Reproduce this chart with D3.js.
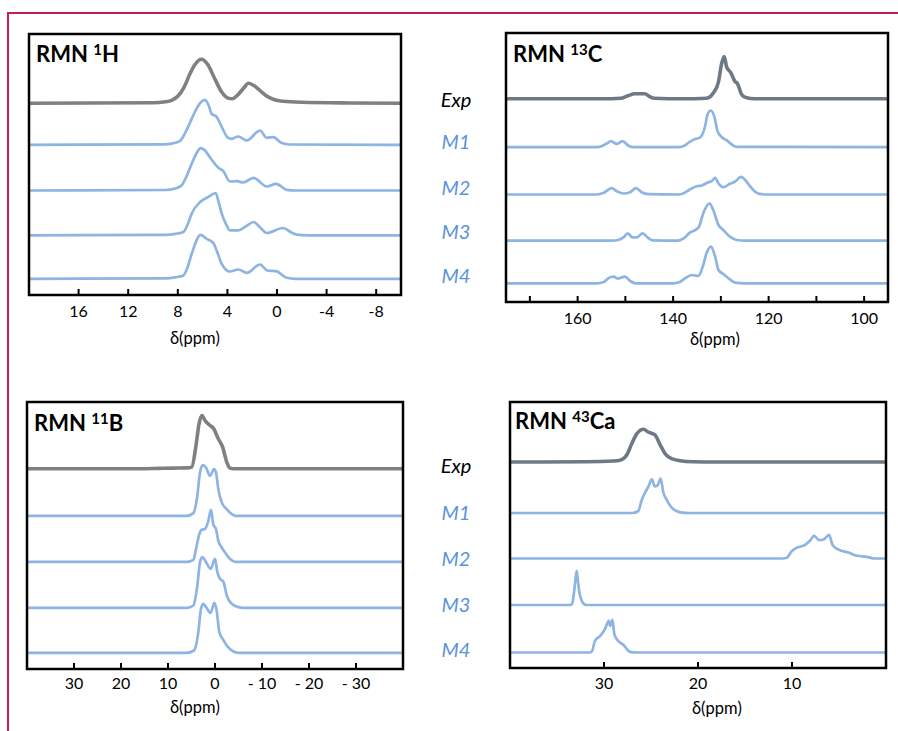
<!DOCTYPE html>
<html lang="en">
<head>
<meta charset="utf-8"/>
<title>RMN spectra</title>
<style>
  body { margin: 0; background: #fff; }
  svg text { font-family: Lato, "Open Sans", sans-serif; }
</style>
</head>
<body>
<svg id="chart" width="898" height="731"></svg>

<script src="https://cdn.jsdelivr.net/npm/d3@7/dist/d3.min.js"></script>
<script>

  // series names shown in the middle column
  const seriesNames = ['Exp', 'M1', 'M2', 'M3', 'M4'];

  // ---- RMN 1H : [ppm, intensity] ----
  const h1Exp = [[20, 0], [10, 0.5], [9, 1.5], [8.5, 3], [8, 7], [7.5, 16], [7, 30], [6.6, 39], [6.1, 44], [5.6, 39],
    [5.0, 24], [4.5, 12], [4.0, 5.5], [3.6, 4.5], [3.2, 8], [2.7, 15], [2.3, 20], [1.9, 18], [1.3, 12], [0.8, 7],
    [0.2, 3.5], [-0.5, 2], [-2, 1], [-6, 0.3], [-10, 0]];
  const h1M1 = [[20, 0], [9, 0.5], [8.2, 2], [7.8, 4], [7.4, 12], [7.0, 22.6], [6.5, 36], [6.1, 43], [5.8, 45], [5.5, 39],
    [5.27, 31], [4.87, 28], [4.46, 18], [3.93, 6.7], [3.66, 6], [3.12, 8.3], [2.44, 4.3], [1.37, 14.3], [0.83, 7],
    [0.3, 7.7], [-0.38, 1.7], [-1, 0.3], [-10, 0]];
  const h1M2 = [[20, 0], [9, 0.5], [8.2, 2], [7.7, 5], [7.3, 14], [6.88, 26.7], [6.5, 37], [6.15, 42.3], [5.8, 40],
    [5.4, 33], [4.73, 22.7], [4.33, 19.3], [3.8, 9], [3.25, 9.3], [2.72, 8], [1.9, 12.7], [0.83, 4], [0.08, 6.7],
    [-0.78, 0.7], [-1.5, 0], [-10, 0]];
  const h1M3 = [[20, 0], [9, 0.5], [8.2, 1.5], [7.55, 3.3], [7.2, 11], [6.88, 21.7], [6.2, 33.3], [5.54, 38.3],
    [4.95, 42.3], [4.7, 33], [4.46, 21.7], [4.1, 11], [3.8, 5], [3.12, 5], [2.5, 9], [1.9, 13.3], [1.3, 7], [0.83, 2.3],
    [-0.5, 7.3], [-1.2, 2.5], [-1.6, 0.7], [-2.5, 0], [-10, 0]];
  const h1M4 = [[20, 0], [9, 0.5], [8.2, 1.5], [7.55, 3.3], [7.2, 12], [6.88, 25], [6.15, 44], [5.67, 40], [5.13, 35.7],
    [4.8, 26], [4.46, 15], [3.8, 7.3], [3.12, 9.3], [2.44, 6], [1.37, 14.3], [0.78, 8.3], [0.08, 7.7], [-0.78, 1],
    [-1.5, 0], [-10, 0]];
  const h1Offsets = [175.5, 134, 88.3, 43.5, 0];
  const h1Ticks = [16, 12, 8, 4, 0, -4, -8];

  // ---- RMN 13C ----
  const c13Exp = [[175, 0], [155, 0], [151, 0.5], [149.5, 3], [148, 5], [146, 5], [144.8, 2], [144, 0.5], [138, 0],
    [133, 0.5], [131.6, 5.7], [130.5, 17], [129.8, 36], [129.3, 42.3], [128.8, 32], [127.9, 26], [127.0, 17],
    [126.6, 15.7], [125.6, 4], [124.6, 1], [123, 0], [95, 0]];
  const c13M1 = [[175, 0], [156, 0], [155, 1], [153.9, 3.7], [153, 6], [151.8, 3.3], [150.6, 6], [149.4, 1.7],
    [148.3, 0], [139, 0], [137.9, 1], [136.6, 5], [135.4, 8.3], [134.5, 9.3], [133.3, 21], [132.8, 32.7],
    [132.1, 36.7], [131.4, 31], [130.7, 16], [129.8, 10], [128.8, 7], [127.7, 2.7], [126.7, 0.3], [95, 0]];
  const c13M2 = [[175, 0], [156, 0], [154.5, 1.7], [152.9, 6.3], [151.8, 3.3], [150.4, 1], [149, 2.3], [147.8, 6.3],
    [146.6, 2.3], [145.2, 0.3], [139, 0], [137.9, 1], [136.5, 5], [135.1, 8.3], [134, 9], [132.6, 12.3],
    [131.9, 13.3], [131.2, 16.7], [130.5, 11], [129.5, 7.3], [128.1, 10.7], [127, 13], [125.8, 17.7], [125, 15],
    [123.9, 8.3], [122.9, 3], [121.5, 0.3], [120, 0], [95, 0]];
  const c13M3 = [[175, 0], [153, 0], [151.5, 0.7], [150.4, 3.3], [149.5, 7.3], [148.5, 3.3], [147.6, 3.3],
    [146.4, 7.3], [145.2, 2.7], [144.2, 0.3], [139, 0], [137.9, 2], [136.5, 8], [134.7, 13], [133.7, 27.3],
    [132.4, 37.3], [131.6, 30.7], [130.5, 15.7], [129.5, 10.7], [128.1, 4], [126.7, 0.7], [125, 0], [95, 0]];
  const c13M4 = [[175, 0], [156, 0], [154.5, 1.3], [153.6, 5], [152.5, 6.7], [151.5, 4.7], [150.1, 6.7], [149, 2.3],
    [147.8, 0], [140, 0], [138.6, 1.3], [137.5, 5], [136.1, 8.3], [134.7, 7.3], [133.8, 16.7], [133, 30],
    [132.1, 36.7], [131.2, 26.7], [130.5, 13.3], [129.5, 9.3], [128.4, 5], [127, 0.7], [125, 0], [95, 0]];
  const c13Offsets = [184.5, 136.1, 88.8, 42.6, 0];
  const c13Ticks = [170, 160, 150, 140, 130, 120, 110, 100];
  const c13TickLabels = [160, 140, 120, 100];

  // ---- RMN 11B ----
  const b11Exp = [[40, 0], [16, 0], [12, 0.4], [9, 0.7], [6, 0.9], [4.96, 1.7], [4.04, 23.3], [3.4, 45], [2.77, 53.3],
    [2.13, 48.3], [1.06, 43.3], [0.36, 40.7], [-0.7, 30], [-1.63, 21.7], [-2.5, 6.7], [-3.2, 0.7], [-4, 0], [-40, 0]];
  const b11M1 = [[40, 0], [6, 0], [4.6, 2.7], [3.76, 20], [3.19, 43.3], [2.62, 50.7], [1.91, 48.3], [1.06, 40],
    [0.21, 46.7], [-0.21, 43.3], [-0.7, 26.7], [-1.43, 13.3], [-2.5, 6.7], [-3.55, 1.7], [-4.3, 0], [-40, 0]];
  const b11M2 = [[40, 0], [6, 0], [4.6, 2], [4.04, 12.7], [3.33, 27.7], [2.84, 32], [2.13, 32.7], [1.42, 41],
    [0.85, 52], [0.36, 37.3], [-0.21, 32.7], [-0.7, 21], [-1.43, 14.3], [-2.13, 9.3], [-3.2, 2.7], [-4.3, 0], [-40, 0]];
  const b11M3 = [[40, 0], [6, 0], [4.6, 2.3], [3.76, 22.3], [3.19, 45.7], [2.7, 50.7], [1.91, 45.7], [0.92, 39],
    [0, 49], [-0.5, 35.7], [-1.06, 29], [-1.77, 26.3], [-2.5, 12.3], [-3.55, 4], [-4.96, 0.7], [-6, 0], [-40, 0]];
  const b11M4 = [[40, 0], [6, 0], [4.46, 2.3], [3.55, 20.7], [2.98, 44], [2.49, 49], [1.91, 45.7], [0.92, 40],
    [0.14, 50], [-0.35, 42.3], [-0.92, 20.7], [-1.63, 14], [-2.5, 7.3], [-3.9, 1.3], [-4.96, 0], [-40, 0]];
  const b11Offsets = [184, 137, 91, 45, 0];
  const b11Ticks = [30, 20, 10, 0, -10, -20, -30];

  // ---- RMN 43Ca ----
  const ca43Exp = [[40, 0], [32, 0.3], [29, 1], [28.3, 1.7], [27.6, 6.7], [27.05, 18.3], [26.5, 28.3], [25.8, 32.7],
    [25.3, 30], [24.6, 27.3], [24.0, 16.7], [23.5, 8.3], [22.8, 3.3], [21.9, 1.3], [20.5, 0.3], [18, 0], [0, 0]];
  const ca43M1 = [[40, 0], [27, 0], [26.35, 2], [26, 12.7], [25.6, 21], [25.3, 26], [24.9, 33.7], [24.6, 26.7],
    [24.3, 27.7], [23.97, 34.3], [23.7, 21], [23.3, 12.7], [22.8, 5.3], [22.3, 2], [21.7, 0.3], [21, 0], [0, 0]];
  const ca43M2 = [[40, 0], [11, 0], [10.56, 0.7], [10.03, 7.3], [9.5, 10.7], [8.6, 13.7], [8.1, 17.7], [7.66, 22.7],
    [7.1, 18.3], [6.6, 19.3], [6.06, 23.7], [5.67, 13.3], [4.9, 8.3], [4.0, 6], [3.1, 2.7], [2.06, 1.7], [1.17, 0],
    [0, 0]];
  const ca43M3 = [[40, 0], [33.6, 0], [33.4, 1], [33.2, 11.7], [33.0, 28], [32.9, 34], [32.75, 22], [32.6, 11.7],
    [32.4, 5], [32.1, 0.7], [31.8, 0], [0, 0]];
  const ca43M4 = [[40, 0], [31.6, 0], [31.3, 1], [30.96, 11.7], [30.4, 16.7], [29.9, 23.3], [29.5, 31.7],
    [29.36, 26.7], [29.1, 32.7], [28.9, 18.3], [28.5, 11.7], [27.95, 7.7], [27.4, 1.7], [27.1, 0.3], [26.5, 0], [0, 0]];
  const ca43Offsets = [190.5, 139.5, 94, 47.5, 0];
  const ca43Ticks = [30, 20, 10];

  // ---- styling ----
  const blueLine = '#8db4e3';
  const blueText = '#5b93da';
  const grayLine = '#808080';
  const slateLine = '#6f7986';
  const frameColor = '#c81b5c';

  const svg = d3.select('#chart');

  // pink outer frame, runs off the page on the right and bottom
  svg.append('rect')
    .attr('x', 8).attr('y', 13)
    .attr('width', 1000).attr('height', 1000)
    .attr('fill', 'none')
    .attr('stroke', frameColor)
    .attr('stroke-width', 2);

  const panels = [
    {
      nucleus: '1', element: 'H', box: {x0: 29, x1: 401, y0: 34, y1: 295},
      xDomain: [20, -10], yDomain: [-16.2, 244.8],
      series: [h1Exp, h1M1, h1M2, h1M3, h1M4], offsets: h1Offsets, expColor: grayLine,
      ticks: h1Ticks, tickLabels: h1Ticks, fmt: d => String(d),
      labelY: 310, titleX: 195, titleY: 338, headX: 36, headY: 62
    },
    {
      nucleus: '13', element: 'C', box: {x0: 506, x1: 888, y0: 33, y1: 302},
      xDomain: [175, 95], yDomain: [-18.7, 250.3],
      series: [c13Exp, c13M1, c13M2, c13M3, c13M4], offsets: c13Offsets, expColor: slateLine,
      ticks: c13Ticks, tickLabels: c13TickLabels, fmt: d => String(d),
      labelY: 317, titleX: 715, titleY: 339, headX: 513, headY: 62
    },
    {
      nucleus: '11', element: 'B', box: {x0: 27, x1: 403, y0: 402, y1: 669},
      xDomain: [40, -40], yDomain: [-16.2, 250.8],
      series: [b11Exp, b11M1, b11M2, b11M3, b11M4], offsets: b11Offsets, expColor: grayLine,
      ticks: b11Ticks, tickLabels: b11Ticks, fmt: d => d < 0 ? '- ' + Math.abs(d) : String(d),
      labelY: 682, titleX: 195, titleY: 707, headX: 34, headY: 431
    },
    {
      nucleus: '43', element: 'Ca', box: {x0: 510, x1: 886, y0: 402, y1: 668},
      xDomain: [40, 0], yDomain: [-15.5, 250.5],
      series: [ca43Exp, ca43M1, ca43M2, ca43M3, ca43M4], offsets: ca43Offsets, expColor: slateLine,
      ticks: ca43Ticks, tickLabels: ca43Ticks, fmt: d => String(d),
      labelY: 682, titleX: 717, titleY: 708, headX: 515, headY: 429
    }
  ];

  panels.forEach(function (p) {
    let x = d3.scaleLinear().domain(p.xDomain).range([p.box.x0, p.box.x1]);
    let y = d3.scaleLinear().domain(p.yDomain).range([p.box.y1, p.box.y0]);
    let g = svg.append('g');

    // traces, bottom one first so Exp sits on top
    p.series.slice().reverse().forEach(function (data, ri) {
      let i = p.series.length - 1 - ri;
      let off = p.offsets[i];
      let line = d3.line()
        .x(d => x(d[0]))
        .y(d => y(off + d[1]))
        .curve(d3.curveMonotoneX);
      let sorted = data.slice().sort((a, b) => d3.descending(a[0], b[0]));
      g.append('path')
        .attr('d', line(sorted))
        .attr('fill', 'none')
        .attr('stroke', i === 0 ? p.expColor : blueLine)
        .attr('stroke-width', i === 0 ? 3.6 : 2.7)
        .attr('stroke-linejoin', 'round');
    });

    // frame box
    g.append('rect')
      .attr('x', p.box.x0).attr('y', p.box.y0)
      .attr('width', p.box.x1 - p.box.x0)
      .attr('height', p.box.y1 - p.box.y0)
      .attr('fill', 'none')
      .attr('stroke', '#000')
      .attr('stroke-width', 2.5);

    // inward ticks on the bottom edge
    g.selectAll('line.tick')
      .data(p.ticks)
      .enter()
      .append('line')
      .attr('x1', d => x(d)).attr('x2', d => x(d))
      .attr('y1', p.box.y1).attr('y2', p.box.y1 - 6)
      .attr('stroke', '#000')
      .attr('stroke-width', 2);

    g.selectAll('text.tick')
      .data(p.tickLabels)
      .enter()
      .append('text')
      .attr('x', d => x(d))
      .attr('y', p.labelY)
      .attr('text-anchor', 'middle')
      .attr('dominant-baseline', 'central')
      .attr('font-size', 16)
      .attr('fill', '#000')
      .text(p.fmt);

    g.append('text')
      .attr('x', p.titleX)
      .attr('y', p.titleY)
      .attr('text-anchor', 'middle')
      .attr('dominant-baseline', 'central')
      .attr('font-size', 16.5)
      .text('δ(ppm)');

    let head = g.append('text')
      .attr('x', p.headX)
      .attr('y', p.headY)
      .attr('font-size', 22)
      .attr('font-weight', 'bold');
    head.append('tspan').text('RMN ');
    head.append('tspan').attr('font-size', 15).attr('dy', -7).text(p.nucleus);
    head.append('tspan').attr('dy', 7).text(p.element);
  });

  // series names in the middle column, aligned on the left-hand panel of each row
  [panels[0], panels[2]].forEach(function (p) {
    let y = d3.scaleLinear().domain(p.yDomain).range([p.box.y1, p.box.y0]);
    svg.append('g')
      .selectAll('text')
      .data(seriesNames)
      .enter()
      .append('text')
      .attr('x', 456)
      .attr('y', (d, i) => y(p.offsets[i]) - 4)
      .attr('text-anchor', 'middle')
      .attr('dominant-baseline', 'central')
      .attr('font-size', 20)
      .attr('font-style', 'italic')
      .attr('fill', (d, i) => i === 0 ? '#000' : blueText)
      .text(d => d);
  });

</script>
</body>
</html>
